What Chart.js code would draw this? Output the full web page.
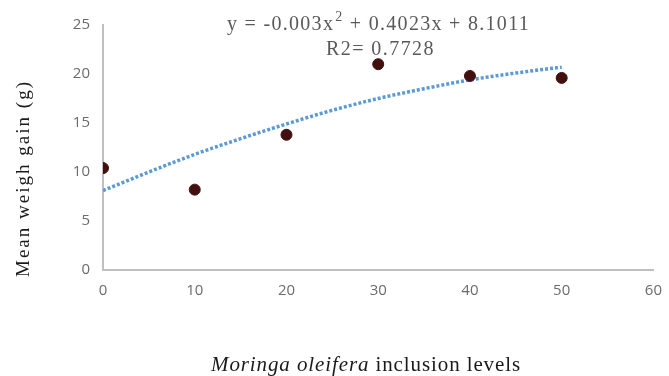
<!DOCTYPE html>
<html>
<head>
<meta charset="utf-8">
<script src="https://cdn.jsdelivr.net/npm/chart.js@4"></script>
<style>
  html, body { margin: 0; padding: 0; background: #fff; }
  #wrap { width: 669px; height: 376px; position: relative; }
</style>
</head>
<body>
<div id="wrap"><canvas id="weightGain"></canvas></div>
<script>
const inclusionLevels = [0, 10, 20, 30, 40, 50];
const meanGain = [10.4, 8.2, 13.8, 21.0, 19.8, 19.6];

// dotted trendline
const trendX = [0, 5, 10, 15, 20, 25, 30, 35, 40, 45, 50];
const trendY = [8.1, 10.0, 11.8, 13.4, 14.9, 16.3, 17.5, 18.5, 19.4, 20.1, 20.7];

const equationText = "y = -0.003x";
const equationRest = " + 0.4023x + 8.1011";
const r2Text = "R2= 0.7728";
const yTitle = "Mean weigh gain (g)";
const xTitleItalic = "Moringa oleifera";
const xTitleRest = " inclusion levels";

// draws text parts from x, spreading letters so the run fills the width
function spacedText(ctx, parts, x, y, width) {
  let natural = 0, chars = 0;
  ctx.letterSpacing = "0px";
  parts.forEach(p => {
    ctx.font = p.font;
    natural += ctx.measureText(p.text).width + (p.gap || 0);
    chars += p.text.length;
  });
  const ls = (width - natural) / chars;
  ctx.letterSpacing = ls + "px";
  let cx = x;
  parts.forEach(p => {
    ctx.font = p.font;
    cx += p.gap || 0;
    ctx.fillText(p.text, cx, y + (p.dy || 0));
    cx += ctx.measureText(p.text).width;
  });
  ctx.letterSpacing = "0px";
}

const labelsPlugin = {
  id: "labels",
  afterDraw(chart) {
    const ctx = chart.ctx;
    const serif = "'Liberation Serif'";
    ctx.save();
    ctx.fillStyle = "#595959";
    ctx.textBaseline = "alphabetic";
    ctx.textAlign = "left";
    spacedText(ctx, [
      { text: equationText, font: "20px " + serif },
      { text: "2", font: "14px " + serif, dy: -9, gap: 1 },
      { text: equationRest, font: "20px " + serif },
    ], 227, 30, 303);
    spacedText(ctx, [{ text: r2Text, font: "20px " + serif }], 326, 55, 109);

    // y title
    ctx.fillStyle = "#1a1a1a";
    ctx.translate(29, 277);
    ctx.rotate(-Math.PI / 2);
    spacedText(ctx, [{ text: yTitle, font: "19px " + serif }], 0, 0, 197);
    ctx.restore();

    // x title
    ctx.save();
    ctx.fillStyle = "#1a1a1a";
    ctx.textBaseline = "alphabetic";
    ctx.textAlign = "left";
    spacedText(ctx, [
      { text: xTitleItalic, font: "italic 21px " + serif },
      { text: xTitleRest, font: "21px " + serif },
    ], 211, 371, 310);
    ctx.restore();
  },
};

new Chart(document.getElementById("weightGain"), {
  type: "scatter",
  data: {
    datasets: [
      {
        label: "Mean weight gain",
        data: inclusionLevels.map((v, i) => ({ x: v, y: meanGain[i] })),
        backgroundColor: "#431010",
        borderColor: "#431010",
        pointRadius: 5.5,
        order: 0,
      },
      {
        label: "Poly. trend",
        data: trendX.map((v, i) => ({ x: v, y: trendY[i] })),
        showLine: true,
        pointRadius: 0,
        borderColor: "#5b9bd5",
        borderWidth: 3.5,
        borderDash: [3, 2],
        cubicInterpolationMode: "monotone",
        order: 1,
      },
    ],
  },
  options: {
    responsive: true,
    maintainAspectRatio: false,
    animation: false,
    layout: { padding: { left: 0, right: 8, top: 25, bottom: 0 } },
    plugins: {
      legend: { display: false },
      tooltip: { enabled: false },
    },
    scales: {
      x: {
        type: "linear",
        min: 0,
        max: 60,
        ticks: { stepSize: 10, color: "#6b6b6b", font: { family: "Open Sans", size: 15 }, padding: 7 },
        grid: { display: false, drawOnChartArea: false, drawTicks: true, tickLength: 5, color: "#bfbfbf" },
        border: { color: "#bfbfbf", width: 2 },
        afterFit(scale) { scale.height = 106; },
      },
      y: {
        min: 0,
        max: 25,
        ticks: { stepSize: 5, color: "#6b6b6b", font: { family: "Open Sans", size: 15 }, padding: 8 },
        grid: { display: false, drawOnChartArea: false, drawTicks: true, tickLength: 5, color: "#bfbfbf" },
        border: { color: "#bfbfbf", width: 2 },
        afterFit(scale) { scale.width = 103; },
      },
    },
  },
  plugins: [labelsPlugin],
});
</script>
</body>
</html>
